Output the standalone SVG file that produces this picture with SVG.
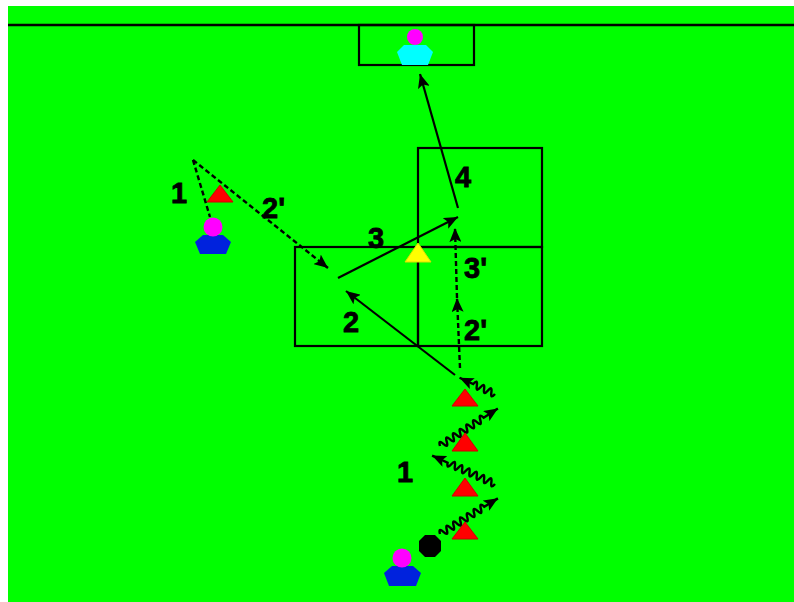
<svg xmlns="http://www.w3.org/2000/svg" width="794" height="602" viewBox="0 0 794 602">
<style>
.ln{stroke:#000;stroke-width:2.2;fill:none}
.wv{stroke:#000;stroke-width:2.4;fill:none}
.dash{stroke:#000;stroke-width:2.4;fill:none;stroke-dasharray:5,3}
.box{stroke:#000;stroke-width:2.2;fill:none}
.lbl{font-family:"Liberation Sans",Arial,sans-serif;font-weight:bold;font-size:29px;fill:#000;stroke:#000;stroke-width:0.8}
.cone{fill:#ff0000;stroke:#d00000;stroke-width:1}
.head{fill:#ff00ff}
.body{fill:#0022dd}
</style>
<defs>
<marker id="ah" markerUnits="userSpaceOnUse" markerWidth="15" markerHeight="12" refX="14" refY="6" orient="auto">
<path d="M0,0 L14,6 L0,12 L3,6 z" fill="#000"/>
</marker>
</defs>
<rect x="0" y="0" width="794" height="602" fill="#ffffff"/>
<rect x="8" y="6" width="786" height="596" fill="#00ff00"/>
<g id="field">
<line x1="8" y1="25" x2="794" y2="25" stroke="#000" stroke-width="2.5"/>
<rect id="goal" x="359" y="25" width="115" height="40" class="box"/>
<rect id="grid-top" x="418" y="148" width="124" height="99" class="box"/>
<rect id="grid-bl" x="295" y="247" width="123" height="99" class="box"/>
<rect id="grid-br" x="418" y="247" width="124" height="99" class="box"/>
</g>
<g id="connectors">
<line class="dash" x1="193" y1="160" x2="210" y2="217"/>
<line class="dash" x1="193" y1="160" x2="328" y2="268" marker-end="url(#ah)"/>
<line class="ln" x1="338" y1="278" x2="458" y2="217" marker-end="url(#ah)"/>
<line class="ln" x1="458" y1="208" x2="420" y2="74" marker-end="url(#ah)"/>
<line class="ln" x1="455" y1="375" x2="346" y2="291" marker-end="url(#ah)"/>
<line class="dash" x1="460" y1="368" x2="457" y2="298" marker-end="url(#ah)"/>
<line class="dash" x1="457" y1="298" x2="455" y2="228" marker-end="url(#ah)"/>
<g transform="translate(440,534) rotate(-31.6)"><path class="wv" d="M0,0 q2,-7 4,0 t4,0 t4,0 t4,0 t4,0 t4,0 t4,0 t4,0 t4,0 t4,0 t4,0 t4,0 t4,0 L68,0" marker-end="url(#ah)"/></g>
<g transform="translate(495,484) rotate(204.3)"><path class="wv" d="M0,0 q2,-7 4,0 t4,0 t4,0 t4,0 t4,0 t4,0 t4,0 t4,0 t4,0 t4,0 t4,0 t4,0 t4,0 L69,0" marker-end="url(#ah)"/></g>
<g transform="translate(440,446) rotate(-33)"><path class="wv" d="M0,0 q2,-7 4,0 t4,0 t4,0 t4,0 t4,0 t4,0 t4,0 t4,0 t4,0 t4,0 t4,0 t4,0 t4,0 L69,0" marker-end="url(#ah)"/></g>
<g transform="translate(495,394) rotate(204.6)"><path class="wv" d="M0,0 q2,-7 4,0 t4,0 t4,0 t4,0 t4,0 t4,0 L39,0" marker-end="url(#ah)"/></g>
</g>
<g id="cone-yellow"><polygon points="418,243 431,262 405,262" fill="#ffff00" stroke="#dddd00" stroke-width="1"/></g>
<g id="cone-left"><polygon class="cone" points="220,185 233,202 207,202"/></g>
<g id="cone-1"><polygon class="cone" points="465,389 478,406 452,406"/></g>
<g id="cone-2"><polygon class="cone" points="465,433 478,451 452,451"/></g>
<g id="cone-3"><polygon class="cone" points="465,478 478,496 452,496"/></g>
<g id="cone-4"><polygon class="cone" points="465,522 478,539 452,539"/></g>
<g id="ball"><polygon points="425,535 435,535 441,541 441,551 435,557 425,557 419,551 419,541" fill="#000"/></g>
<g id="goalkeeper">
<polygon points="404,45 426,45 433,52 428,65 402,65 397,52" fill="#00ffff"/>
<circle cx="415" cy="37" r="8" fill="#ff00ff"/>
</g>
<g id="player-left">
<polygon class="body" points="203,235 223,235 231,242 226,254 200,254 195,242"/>
<circle class="head" cx="213" cy="227" r="9.5"/>
</g>
<g id="player-bottom">
<polygon class="body" points="392,566 413,566 421,573 416,586 389,586 384,573"/>
<circle class="head" cx="402" cy="558" r="9.5"/>
</g>
<g id="labels">
<text class="lbl" x="179" y="203" text-anchor="middle" font-size="31">1</text>
<text class="lbl" x="262" y="218">2'</text>
<text class="lbl" x="376" y="248" text-anchor="middle">3</text>
<text class="lbl" x="463" y="187" text-anchor="middle">4</text>
<text class="lbl" x="351" y="332" text-anchor="middle">2</text>
<text class="lbl" x="464" y="278">3'</text>
<text class="lbl" x="464" y="340">2'</text>
<text class="lbl" x="405" y="482" text-anchor="middle" font-size="31">1</text>
</g>
</svg>
